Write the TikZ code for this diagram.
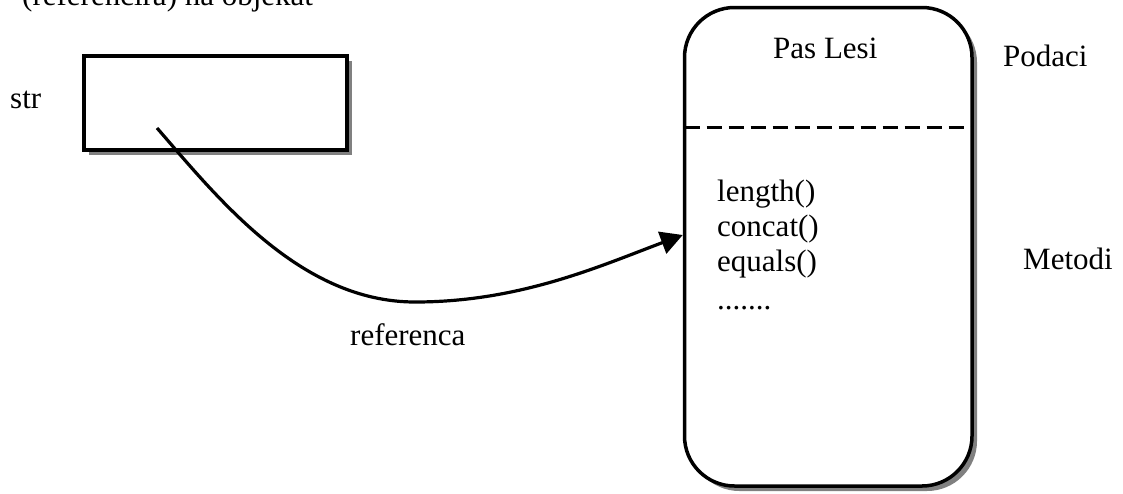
\documentclass[tikz,border=0pt]{standalone}
\usepackage{fontspec}
\setmainfont{Liberation Serif}
\usetikzlibrary{arrows.meta,calc}

\begin{document}
\begin{tikzpicture}[x=1pt,y=-1pt,
  lbl/.style={anchor=base west,inner sep=0pt,font=\fontsize{31}{35}\selectfont},
  shadowfill/.style={fill=black!50,draw=none},
  boxline/.style={draw=black,fill=white,line width=3.5pt},
  refline/.style={draw=black,line width=3.2pt,-{Triangle[length=22pt,width=23pt]}},
  divider/.style={draw=black,line width=3.4pt,dash pattern=on 15pt off 7pt}
]
\useasboundingbox[fill=white] (0,0) rectangle (1123,493);
\clip (0,0) rectangle (1123,493);

% caption line running off the top edge
\node[lbl] (cap) at (22,5) {(referencira) na objekat};

% variable box with drop shadow
\fill[shadowfill] (89,61) rectangle (352,155);
\node[boxline,inner sep=0pt,minimum width=263pt,minimum height=94pt] (strbox) at (215.5,103) {};
\node[lbl] (strlbl) at (10,108.5) {str};

% object box with drop shadow
\fill[shadowfill,rounded corners=50pt] (689.5,12.5) rectangle (977,491);
\node[boxline,inner sep=0pt,rounded corners=50pt,minimum width=287.5pt,minimum height=478.5pt] (obj) at (828.25,246.75) {};
\coordinate (divl) at (684.5,127.5);
\coordinate (divr) at (972,127.5);
\draw[divider] (divl) -- (divr);

\node[lbl] (title) at (773,58) {Pas Lesi};
\node[lbl] (m1) at (717,201.5) {length()};
\node[lbl] (m2) at (717,236.5) {concat()};
\node[lbl] (m3) at (717,271.5) {equals()};
\node[lbl] (m4) at (717,309.5) {.......};

\node[lbl] (podaci) at (1003,66) {Podaci};
\node[lbl] (metodi) at (1023,269) {Metodi};
\node[lbl] (reflbl) at (350,345) {referenca};

% reference arrow from the variable into the object
\coordinate (refstart) at (157,128);
\coordinate (refmid) at (415,302);
\draw[refline] (refstart) .. controls (217,197) and (300,302) .. (refmid)
  .. controls (520,302) and (600,266) .. ([yshift=11.75pt]obj.west);
\end{tikzpicture}
\end{document}
